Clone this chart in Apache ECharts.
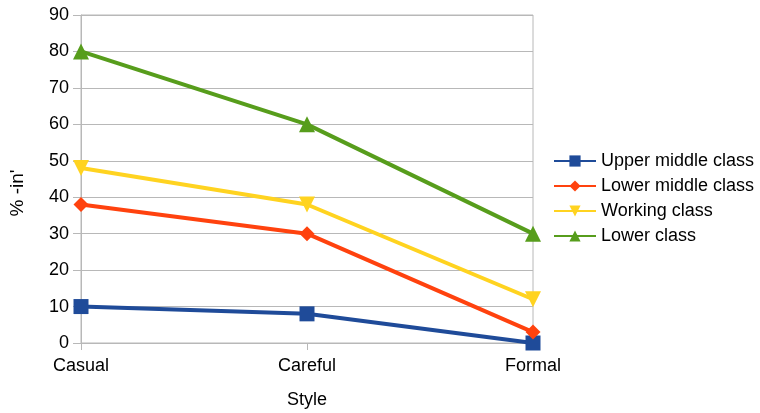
<!DOCTYPE html>
<html><head><meta charset="utf-8">
<script src="https://cdn.jsdelivr.net/npm/echarts@6/dist/echarts.min.js"></script>
<style>html,body{margin:0;padding:0;background:#fff}#c{width:760px;height:413px}</style>
</head><body><div id="c"></div>
<script>
const categories = ['Casual', 'Careful', 'Formal'];
const seriesNames = ['Upper middle class', 'Lower middle class', 'Working class', 'Lower class'];
const upperMiddle = [10, 8, 0];
const lowerMiddle = [38, 30, 3];
const working = [48, 38, 12];
const lower = [80, 60, 30];
const yTicks = [0, 10, 20, 30, 40, 50, 60, 70, 80, 90];

const colors = ['#1f4b99', '#ff420e', '#ffd320', '#579d1c'];
const symbols = ['rect', 'diamond', 'path://M0,0 L10,0 L5,10 Z', 'triangle'];
const sizes = [15, 15, 16, 16];
const datas = [upperMiddle, lowerMiddle, working, lower];
const font = 'Liberation Sans, Arial, sans-serif';
const grey = '#b8b8b8';

const chart = echarts.init(document.getElementById('c'));
chart.setOption({
  animation: false,
  backgroundColor: '#fff',
  grid: { left: 81, right: 227, top: 15, bottom: 70, containLabel: false,
          outerBoundsMode: 'none',
          show: true, borderColor: grey, borderWidth: 1 },
  legend: {
    orient: 'vertical', left: 553, top: 152, padding: 0,
    itemWidth: 42, itemHeight: 14, itemGap: 7,
    data: seriesNames,
    textStyle: { fontFamily: font, fontSize: 18, color: '#000' }
  },
  xAxis: {
    type: 'category', data: categories, boundaryGap: false,
    name: 'Style', nameLocation: 'middle', nameGap: 48,
    nameTextStyle: { fontFamily: font, fontSize: 18, color: '#000' },
    axisLine: { show: true, lineStyle: { color: grey } },
    axisTick: { show: true, length: 7, lineStyle: { color: grey } },
    axisLabel: { fontFamily: font, fontSize: 18, color: '#000', margin: 14 },
    splitLine: { show: false }
  },
  yAxis: {
    type: 'value', min: yTicks[0], max: yTicks[yTicks.length - 1], interval: 10,
    name: "% -in'", nameLocation: 'middle', nameGap: 54, nameRotate: 90,
    nameTextStyle: { fontFamily: font, fontSize: 19, color: '#000', padding: [0, 28, 0, 0] },
    axisLine: { show: true, lineStyle: { color: grey } },
    axisTick: { show: true, length: 8, lineStyle: { color: grey } },
    axisLabel: { fontFamily: font, fontSize: 18, color: '#000', margin: 12 },
    splitLine: { show: true, lineStyle: { color: grey } }
  },
  series: seriesNames.map((n, i) => ({
    name: n, type: 'line', data: datas[i],
    symbol: symbols[i], symbolSize: sizes[i],
    lineStyle: { width: 4, color: colors[i] },
    itemStyle: { color: colors[i] }
  }))
});
</script></body></html>
